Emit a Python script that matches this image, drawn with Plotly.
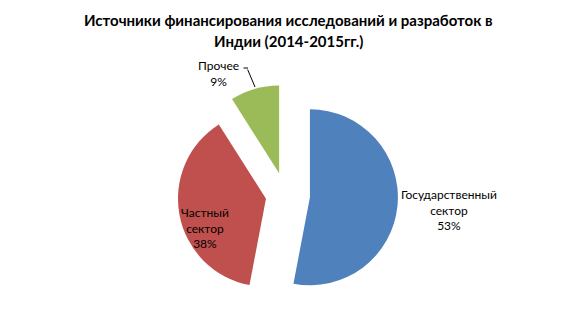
import plotly.graph_objects as go

labels = ["Государственный сектор", "Частный сектор", "Прочее"]
label_lines = ["Государственный<br>сектор", "Частный<br>сектор", "Прочее"]
values = [53, 38, 9]
colors = ["#4F81BD", "#C0504D", "#9BBB59"]
pulls = [0.28, 0.225, 0.256]
title_lines = ["Источники финансирования исследований и разработок в",
               "Индии (2014-2015гг.)"]

font_family = "Lato, 'Liberation Sans', sans-serif"
W, H = 576, 336

fig = go.Figure(go.Pie(
    labels=labels,
    values=values,
    sort=False,
    direction="clockwise",
    rotation=0,
    pull=pulls,
    marker=dict(colors=colors, line=dict(width=0)),
    textinfo="none",
    hoverinfo="label+percent",
    showlegend=False,
    domain=dict(x=[0.3000, 0.6910], y=[0.0845, 0.7548]),
))

total = sum(values)
pct = [f"{round(v * 100 / total)}%" for v in values]
label_pos = [(449, 210), (205, 228), (218, 73)]
for (px, py), txt, p in zip(label_pos, label_lines, pct):
    fig.add_annotation(
        x=px / W, y=1 - py / H, xref="paper", yref="paper",
        xanchor="center", yanchor="middle",
        text=f"{txt}<br>{p}", showarrow=False,
        font=dict(family=font_family, size=12, color="#000000"),
        align="center",
    )

# leader line for the small slice label
fig.add_annotation(
    x=255 / W, y=1 - 87 / H, xref="paper", yref="paper",
    ax=-8, ay=-19, text="", showarrow=True, arrowhead=0,
    arrowwidth=1, arrowcolor="#000000",
)
fig.add_annotation(
    x=248 / W, y=1 - 68 / H, xref="paper", yref="paper",
    ax=-6, ay=0, text="", showarrow=True, arrowhead=0,
    arrowwidth=1, arrowcolor="#000000",
)

for line, py in zip(title_lines, [20, 41]):
    fig.add_annotation(
        x=0.5, y=1 - py / H, xref="paper", yref="paper",
        xanchor="center", yanchor="middle",
        text=f"<b>{line}</b>", showarrow=False,
        font=dict(family=font_family, size=15, color="#000000"),
    )

fig.update_layout(
    width=W, height=H,
    margin=dict(l=0, r=0, t=0, b=0),
    paper_bgcolor="white", plot_bgcolor="white",
)

fig.write_html("out.html", config={"displayModeBar": False},
               post_script="document.body.style.margin='0';")
